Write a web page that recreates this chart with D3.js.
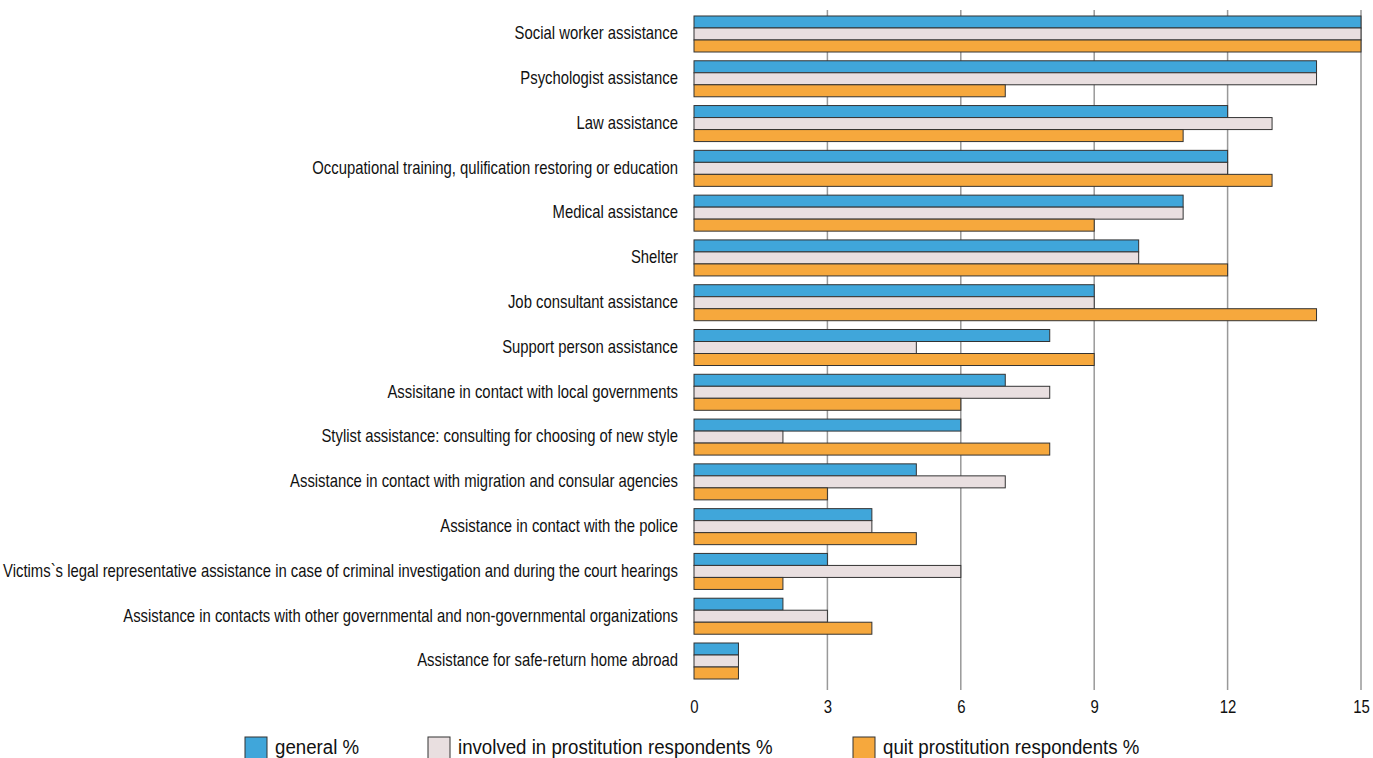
<!DOCTYPE html>
<html><head><meta charset="utf-8">
<script src="https://cdn.jsdelivr.net/npm/d3@7"></script>
<style>body{margin:0;background:#fff;} text{font-family:"Liberation Sans",Arial,sans-serif;fill:#111;}</style>
</head><body><svg id="c" width="1373" height="758"></svg>
<script>
const categories = [
 "Social worker assistance","Psychologist assistance","Law assistance",
 "Occupational training, qulification restoring or education","Medical assistance","Shelter",
 "Job consultant assistance","Support person assistance","Assisitane in contact with local governments",
 "Stylist assistance: consulting for choosing of new style","Assistance in contact with migration and consular agencies",
 "Assistance in contact with the police",
 "Victims`s legal representative assistance in case of criminal investigation and during the court hearings",
 "Assistance in contacts with other governmental and non-governmental organizations",
 "Assistance for safe-return home abroad"];
const general = [15,14,12,12,11,10,9,8,7,6,5,4,3,2,1];
const involved = [15,14,13,12,11,10,9,5,8,2,7,4,6,3,1];
const quit = [15,7,11,13,9,12,14,9,6,8,3,5,2,4,1];
const seriesNames = ["general %","involved in prostitution respondents %","quit prostitution respondents %"];
const colors = ["#40a6da","#e9dfe0","#f6a83d"];
const ticks = [0,3,6,9,12,15];

const svg = d3.select("#c");
const x = d3.scaleLinear().domain([0,15]).range([694,1361]);
const y = d3.scaleBand().domain(categories).range([11.6,683.4]).paddingInner(0.196).paddingOuter(0.098);
const keys = ["g","i","q"];
const yi = d3.scaleBand().domain(keys).range([0,y.bandwidth()]);
const data = categories.map((c,k)=>({c, g:general[k], i:involved[k], q:quit[k]}));

// gridlines
svg.append("g").selectAll("line").data(ticks.filter(t=>t>0)).join("line")
 .attr("x1",d=>x(d)).attr("x2",d=>x(d)).attr("y1",10).attr("y2",690)
 .attr("stroke","#999").attr("stroke-width",1.5);

// bars
const grp = svg.append("g").selectAll("g").data(data).join("g")
 .attr("transform",d=>`translate(0,${y(d.c)})`);
grp.selectAll("rect").data(d=>keys.map((k,j)=>({k,j,v:d[k]}))).join("rect")
 .attr("x",x(0)).attr("y",d=>yi(d.k)).attr("width",d=>x(d.v)-x(0)).attr("height",yi.bandwidth())
 .attr("fill",d=>colors[d.j]).attr("stroke","#333").attr("stroke-width",1);

// category labels (condensed)
svg.append("g").selectAll("text").data(categories).join("text")
 .attr("transform",d=>`translate(678,${y(d)+y.bandwidth()/2-1}) scale(0.825,1)`)
 .attr("dy","0.35em").attr("text-anchor","end").attr("font-size",18).text(d=>d);

// x axis labels
const ax = svg.append("g").attr("transform","translate(0,690)")
 .call(d3.axisBottom(x).tickValues(ticks).tickSize(0).tickPadding(10));
ax.select(".domain").remove();
ax.selectAll(".tick text").attr("font-size",18).attr("font-family","Liberation Sans, Arial, sans-serif")
 .attr("fill","#111").attr("transform","scale(0.83,1)");

// legend
const lx = [245,428,853];
const lg = svg.append("g").selectAll("g").data(seriesNames).join("g")
 .attr("transform",(d,k)=>`translate(${lx[k]},737)`);
lg.append("rect").attr("width",22).attr("height",22).attr("fill",(d,k)=>colors[k]).attr("stroke","#333");
lg.append("text").attr("transform","translate(30,17) scale(0.89,1)").attr("font-size",21).text(d=>d);
</script></body></html>
